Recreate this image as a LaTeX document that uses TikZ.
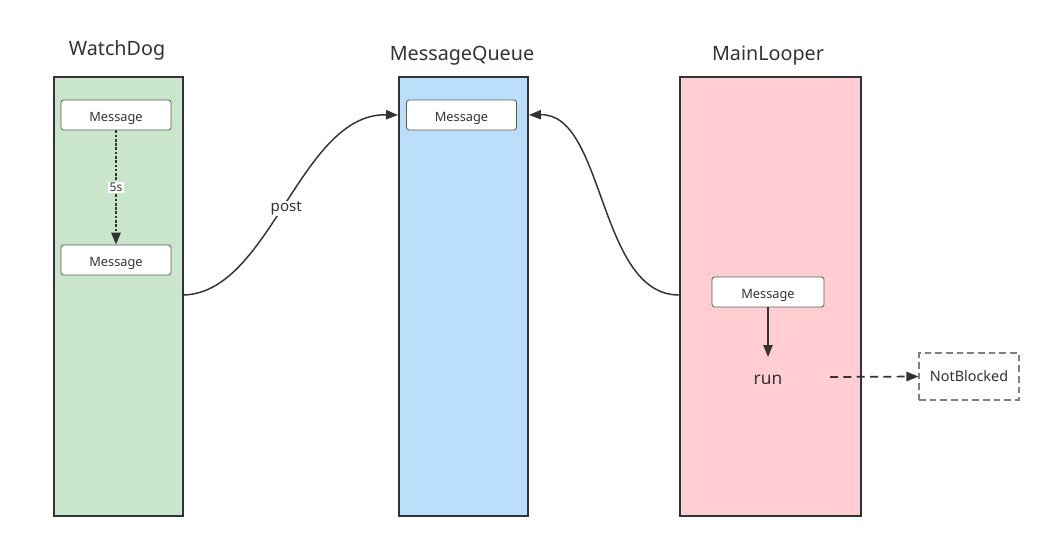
\documentclass[tikz,border=0pt]{standalone}
\usepackage{fontspec}
\setmainfont{Noto Sans}
\usetikzlibrary{arrows.meta}
\definecolor{ink}{HTML}{333333}
\definecolor{wdgreen}{HTML}{C9E6CB}
\definecolor{mqblue}{HTML}{BBDEFB}
\definecolor{mlpink}{HTML}{FFCDD2}
\tikzset{
  col/.style={draw=ink, line width=1.5pt, minimum width=129*0.75pt, minimum height=439*0.75pt, inner sep=0pt, anchor=north west},
  msg/.style={draw=ink!80, fill=white, rounded corners=2pt, line width=0.6pt, minimum width=110*0.75pt, minimum height=30*0.75pt, inner sep=0pt, text height=1.9ex, text depth=0.1ex, font=\fontsize{9.6}{10}\selectfont, text=ink},
  ttl/.style={font=\fontsize{14.8}{16}\selectfont, text=ink},
  conn/.style={draw=ink, line width=1.1pt},
  tip/.style={-{Triangle[length=9pt,width=7pt]}}
}
\begin{document}
\begin{tikzpicture}[x=0.75pt,y=-0.75pt]
\useasboundingbox (0,0) rectangle (1043,540);
% columns
\node[col, fill=wdgreen] (wd) at (53,76) {};
\node[col, fill=mqblue] (mq) at (398,76) {};
\node[col, fill=mlpink, minimum width=181*0.75pt] (ml) at (679,76) {};
% titles
\node[ttl] (t1) at (117,50) {WatchDog};
\node[ttl] (t2) at (462,56) {MessageQueue};
\node[ttl] (t3) at (768,56) {MainLooper};
% messages
\node[msg] (m1) at (116,115) {Message};
\node[msg] (m2) at (116,260) {Message};
\node[msg] (mq1) at (461.5,115) {Message};
\node[msg, minimum width=112*0.75pt] (ml1) at (768,292) {Message};
% run & notblocked
\node[font=\fontsize{13}{15}\selectfont, text=ink] (run) at (768,380) {run};
\node[draw=gray, dash pattern=on 5pt off 3pt, line width=0.8pt, minimum width=100*0.75pt, minimum height=47*0.75pt, inner sep=0pt, font=\fontsize{10.8}{12}\selectfont, text=ink] (nb) at (969,376.5) {NotBlocked};
\coordinate (wdout) at (182,295);
\coordinate (mlout) at (679,295);
\coordinate (runR) at (830,377);
\coordinate (runtop) at (768,357);
\coordinate (mqin) at (mq.west |- mq1.west);
\coordinate (mqinR) at (mq.east |- mq1.east);
% connectors
\draw[conn, dash pattern=on 2pt off 1.2pt, tip, line width=1.3pt] (m1.south) -- node[fill=white, inner sep=1pt, font=\fontsize{9}{10}\selectfont, text=ink] {5s} (m2.north);
\draw[conn, tip] (wdout) .. controls (270,295) and (300,113) .. node[pos=0.5, yshift=-3pt, fill=white, inner sep=0.5pt, font=\fontsize{11.3}{13}\selectfont, text=ink] {post} (mqin);
\draw[conn, tip] (mlout) .. controls (598,295) and (605,113) .. (mqinR);
\draw[conn, tip] (ml1.south) -- (runtop);
\draw[conn, dash pattern=on 6pt off 4pt, tip, line width=1.3pt] (runR) -- (nb.west);
\end{tikzpicture}
\end{document}
